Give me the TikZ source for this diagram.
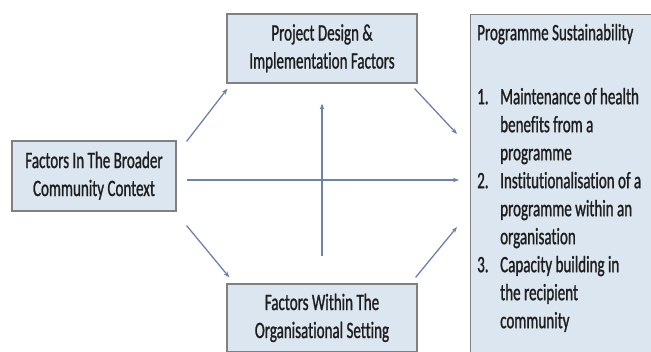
\documentclass[tikz,border=0pt]{standalone}
\usepackage{fontspec}
\setmainfont{Carlito}[FakeStretch=0.64,FakeBold=1,Ligatures=NoCommon]
\usetikzlibrary{arrows.meta,calc}
\definecolor{boxfill}{HTML}{DCE6F1}
\definecolor{boxline}{HTML}{808080}
\definecolor{arrowc}{HTML}{6D81A9}
\definecolor{txt}{HTML}{1E1E1E}
\newcommand{\fstrut}{\rule[-8pt]{0pt}{28pt}}
\begin{document}
\begin{tikzpicture}[x=1pt,y=-1pt,
  lbl/.style={text=txt, font=\fontsize{23.5}{28}\selectfont},
  box/.style={lbl, draw=boxline, fill=boxfill, line width=1.2pt, inner sep=0pt, align=center},
  conn/.style={draw=arrowc, line width=1.3pt, -{Stealth[length=6pt,width=4.5pt]}}]
\useasboundingbox (0,0) rectangle (651,351);
\clip (0,0) rectangle (651,351);
\node[box, minimum width=164pt, minimum height=70pt] (ctx) at (94,176)
  {\fstrut Factors In The Broader\\Community Context\fstrut};
\node[box, minimum width=190pt, minimum height=69pt] (pd) at (322,48.5)
  {\fstrut Project Design \&\\Implementation Factors\fstrut};
\node[box, minimum width=190pt, minimum height=68pt] (org) at (322,318)
  {\fstrut Factors Within The\\Organisational Setting\fstrut};
\node[box, anchor=north west, minimum width=190pt, minimum height=345pt] (sus) at (470,14) {};
\node[lbl, anchor=north west, inner sep=0pt, align=left] (sustxt) at (477,20)
  {\fstrut Programme Sustainability\\[36pt]
   \makebox[23pt][l]{1.}Maintenance of health\\
   \hspace*{23pt}benefits from a\\
   \hspace*{23pt}programme\\
   \makebox[23pt][l]{2.}Institutionalisation of a\\
   \hspace*{23pt}programme within an\\
   \hspace*{23pt}organisation\\
   \makebox[23pt][l]{3.}Capacity building in\\
   \hspace*{23pt}the recipient\\
   \hspace*{23pt}community\fstrut};
\draw[conn] ($(ctx.north east)+(10,1)$) -- ($(pd.south west)+(1,5)$);
\draw[conn] ($(ctx.south east)+(10,14)$) -- ($(org.north west)+(3,-6)$);
\draw[conn] ($(ctx.east)+(10,4)$) -- ($(ctx.east -| sus.west)+(-11,4)$);
\draw[conn] ($(org.north)+(0,-27)$) -- ($(pd.south)+(0,20)$);
\draw[conn] ($(pd.south east)+(-3,5)$) -- ($(sus.north west)+(-13,120)$);
\draw[conn] ($(org.north east)+(-2,-6)$) -- ($(sus.north west)+(-13,213)$);
\end{tikzpicture}
\end{document}
